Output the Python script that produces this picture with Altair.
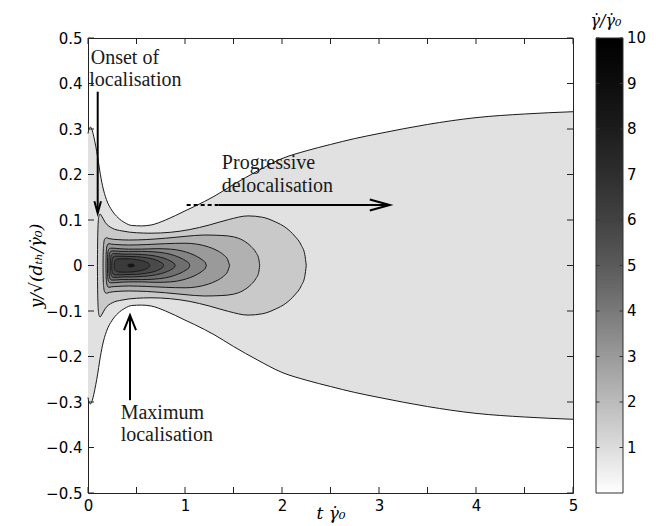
import altair as alt
import pandas as pd

# ---------------- data ----------------
# upper halves of the contours (the field is symmetric about y = 0)
L1_x = [0, 0.013, 0.028, 0.045, 0.06, 0.08, 0.1, 0.12, 0.15, 0.19, 0.25, 0.31, 0.38, 0.45, 0.55, 0.65,
        0.8, 1.0, 1.1, 1.3, 1.5, 1.75, 2.0, 2.25, 2.5, 2.75, 3.0, 3.5, 4.0, 4.5, 5.0]
L1_y = [0.29, 0.302, 0.304, 0.296, 0.283, 0.262, 0.238, 0.21, 0.175, 0.145, 0.12, 0.105, 0.094, 0.088,
        0.087, 0.089, 0.1, 0.12, 0.13, 0.152, 0.178, 0.208, 0.235, 0.252, 0.266, 0.279, 0.29, 0.31,
        0.325, 0.333, 0.338]

L2_x = [0.097, 0.099, 0.103, 0.112, 0.125, 0.145, 0.18, 0.25, 0.35, 0.5, 0.65, 0.85, 1.05, 1.25, 1.45,
        1.65, 1.8, 1.93, 2.04, 2.13, 2.2, 2.235, 2.25]
L2_y = [0, 0.045, 0.085, 0.108, 0.113, 0.107, 0.094, 0.082, 0.076, 0.072, 0.071, 0.073, 0.079, 0.089,
        0.101, 0.109, 0.106, 0.096, 0.083, 0.065, 0.044, 0.024, 0]

L3_x = [0.155, 0.157, 0.162, 0.172, 0.19, 0.22, 0.3, 0.42, 0.6, 0.8, 1.0, 1.2, 1.38, 1.5, 1.6, 1.68,
        1.73, 1.76, 1.77]
L3_y = [0, 0.03, 0.048, 0.058, 0.061, 0.059, 0.057, 0.056, 0.057, 0.06, 0.064, 0.067, 0.066, 0.063,
        0.055, 0.042, 0.029, 0.015, 0]

L4_x = [0.185, 0.187, 0.192, 0.2, 0.215, 0.24, 0.3, 0.42, 0.6, 0.8, 1.0, 1.12, 1.24, 1.33, 1.4, 1.44, 1.46]
L4_y = [0, 0.025, 0.038, 0.045, 0.048, 0.047, 0.046, 0.045, 0.046, 0.048, 0.049, 0.047, 0.041, 0.033,
        0.023, 0.013, 0]

L5_x = [0.2, 0.202, 0.207, 0.215, 0.23, 0.26, 0.32, 0.42, 0.55, 0.7, 0.85, 0.97, 1.06, 1.13, 1.18, 1.21, 1.22]
L5_y = [0, 0.02, 0.031, 0.036, 0.038, 0.038, 0.037, 0.036, 0.036, 0.037, 0.036, 0.032, 0.026, 0.019,
        0.012, 0.006, 0]

L6_x = [0.215, 0.217, 0.222, 0.23, 0.245, 0.28, 0.34, 0.42, 0.55, 0.68, 0.8, 0.89, 0.96, 1.01, 1.04, 1.05]
L6_y = [0, 0.017, 0.026, 0.03, 0.032, 0.032, 0.031, 0.031, 0.031, 0.03, 0.027, 0.022, 0.016, 0.01, 0.005, 0]

L7_x = [0.23, 0.232, 0.237, 0.245, 0.26, 0.3, 0.36, 0.45, 0.56, 0.66, 0.75, 0.82, 0.865, 0.89, 0.9]
L7_y = [0, 0.013, 0.02, 0.024, 0.026, 0.026, 0.025, 0.025, 0.024, 0.022, 0.018, 0.013, 0.008, 0.004, 0]

L8_x = [0.245, 0.247, 0.252, 0.26, 0.28, 0.32, 0.4, 0.5, 0.6, 0.68, 0.73, 0.76, 0.775, 0.78]
L8_y = [0, 0.01, 0.016, 0.019, 0.0205, 0.0205, 0.02, 0.0195, 0.017, 0.0135, 0.0095, 0.006, 0.003, 0]

L9_x = [0.27, 0.273, 0.28, 0.295, 0.32, 0.37, 0.43, 0.5, 0.56, 0.6, 0.625, 0.64]
L9_y = [0, 0.007, 0.0105, 0.013, 0.0143, 0.0147, 0.0145, 0.013, 0.0105, 0.0075, 0.0045, 0]

L10_x = [0.41, 0.42, 0.445, 0.47, 0.48]
L10_y = [0, 0.0028, 0.0033, 0.0025, 0]

contour_levels = [1, 2, 3, 4, 5, 6, 7, 8, 9, 10]
contour_x = [L1_x, L2_x, L3_x, L4_x, L5_x, L6_x, L7_x, L8_x, L9_x, L10_x]
contour_y = [L1_y, L2_y, L3_y, L4_y, L5_y, L6_y, L7_y, L8_y, L9_y, L10_y]
fill_colors = ["#e1e1e1", "#c9c9c9", "#b1b1b1", "#9a9a9a", "#848484",
               "#6f6f6f", "#5b5b5b", "#4a4a4a", "#3b3b3b", "#151515"]

x_tick_labels = [0, 1, 2, 3, 4, 5]
x_ticks = [0, 0.5, 1, 1.5, 2, 2.5, 3, 3.5, 4, 4.5, 5]
y_ticks = [-0.5, -0.4, -0.3, -0.2, -0.1, 0, 0.1, 0.2, 0.3, 0.4, 0.5]

cbar_min, cbar_max = 0, 10
cbar_ticks = [1, 2, 3, 4, 5, 6, 7, 8, 9, 10]
cbar_stop_values = [0, 1, 2, 3, 4, 5, 6, 7, 8, 9, 10]
cbar_stop_colors = ["#ffffff", "#dcdcdc", "#bbbbbb", "#9a9a9a", "#797979", "#5a5a5a",
                    "#424242", "#2e2e2e", "#1c1c1c", "#0d0d0d", "#000000"]

ann_text = ["Onset of", "localisation", "Progressive", "delocalisation", "Maximum", "localisation"]
ann_x = [0.028, 0.013, 1.38, 1.38, 0.337, 0.337]
ann_y = [0.443, 0.395, 0.212, 0.1615, -0.337, -0.386]

# arrows: shafts and open heads (polylines)
arrow_id = ["onset", "onset", "max", "max", "prog", "prog",
            "onset_h", "onset_h", "onset_h", "max_h", "max_h", "max_h", "prog_h", "prog_h", "prog_h"]
arrow_x = [0.1, 0.1, 0.433, 0.433, 1.344, 3.1,
           0.066, 0.1, 0.134, 0.371, 0.433, 0.495, 2.905, 3.111, 2.905]
arrow_y = [0.382, 0.118, -0.296, -0.112, 0.133, 0.133,
           0.141, 0.115, 0.141, -0.142, -0.109, -0.142, 0.145, 0.133, 0.121]
dash_x = [1.017, 1.344]
dash_y = [0.133, 0.133]

# ---------------- tables ----------------
rows = []
for lev, xs_, ys_ in zip(contour_levels, contour_x, contour_y):
    for i, (xv, yv) in enumerate(zip(xs_, ys_)):
        rows.append({"level": lev, "i": i, "x": xv, "y": yv, "ylo": -yv})
cdf = pd.DataFrame(rows)
line_df = pd.concat([
    cdf.assign(side="up", yy=cdf["y"]),
    cdf.assign(side="down", yy=cdf["ylo"]),
])

ann_df = pd.DataFrame({"text": ann_text, "x": ann_x, "y": ann_y})
arrow_df = pd.DataFrame({"id": arrow_id, "x": arrow_x, "y": arrow_y})
arrow_df["i"] = range(len(arrow_df))
dash_df = pd.DataFrame({"x": dash_x, "y": dash_y})
xt_df = pd.DataFrame({"x": x_ticks})
yt_df = pd.DataFrame({"y": y_ticks})
cb_df = pd.DataFrame({"v": cbar_ticks})
cb_df["y"] = (cb_df["v"] - (cbar_min + cbar_max) / 2) / (cbar_max - cbar_min)
cb_rect = pd.DataFrame({"y": [0.5], "ylo": [-0.5]})
cb_title = pd.DataFrame({"t": ["γ̇/γ̇₀"]})

W, H = 485, 455
XS = alt.Scale(domain=[0, 5], nice=False, zero=False)
YS = alt.Scale(domain=[-0.5, 0.5], nice=False, zero=False)

x_axis = alt.Axis(values=x_tick_labels, format="d", title="t γ̇₀", grid=False, domain=False,
                  ticks=False, tickSize=0, labelPadding=5, labelFont="DejaVu Sans",
                  labelFontSize=15, labelColor="black", labelFlush=False, labelOverlap=False,
                  titleFont="DejaVu Serif", titleFontStyle="italic", titleFontWeight="normal",
                  titleFontSize=17, titleColor="black", titleY=25, titleBaseline="alphabetic")
y_axis = alt.Axis(values=y_ticks, format=".1~f", title="y/√(dₜₕ/γ̇₀)", grid=False, domain=False,
                  ticks=False, tickSize=0, labelPadding=6, labelFont="DejaVu Sans",
                  labelFontSize=15, labelColor="black", labelFlush=False, labelOverlap=False,
                  titleFont="DejaVu Serif", titleFontStyle="italic", titleFontWeight="normal",
                  titleFontSize=17, titleColor="black", titleAngle=270, titleX=-47, titleY=H / 2,
                  titleAlign="center", titleBaseline="alphabetic")


def X(field):
    return alt.X(field, type="quantitative", scale=XS, axis=x_axis)


def Y(field):
    return alt.Y(field, type="quantitative", scale=YS, axis=y_axis, stack=None)


layers = []
for k, lev in enumerate(contour_levels):
    layers.append(
        alt.Chart(cdf).transform_filter(alt.datum.level == lev)
        .mark_area(color=fill_colors[k], interpolate="monotone")
        .encode(x=X("x"), y=Y("y"), y2="ylo:Q")
    )

layers.append(
    alt.Chart(line_df).mark_line(color="#1a1a1a", strokeWidth=1, interpolate="monotone")
    .encode(x=X("x"), y=Y("yy"), detail=["level:N", "side:N"], order="i:Q")
)

layers.append(
    alt.Chart(arrow_df).mark_line(color="black", strokeWidth=2)
    .encode(x=X("x"), y=Y("y"), detail="id:N", order="i:Q")
)
layers.append(
    alt.Chart(dash_df).mark_line(color="black", strokeWidth=2, strokeDash=[4, 3])
    .encode(x=X("x"), y=Y("y"))
)
layers.append(
    alt.Chart(ann_df).mark_text(align="left", baseline="alphabetic", font="Liberation Serif",
                                fontSize=20, color="#1a1a1a")
    .encode(x=X("x"), y=Y("y"), text="text:N")
)

# inward ticks on all four sides
for (y0, y1) in [(H, H - 6), (0, 6)]:
    layers.append(alt.Chart(xt_df).mark_rule(color="#222", strokeWidth=1)
                  .encode(x=X("x"), y=alt.value(y0), y2=alt.value(y1)))
for (x0, x1) in [(0, 6), (W, W - 6)]:
    layers.append(alt.Chart(yt_df).mark_rule(color="#222", strokeWidth=1)
                  .encode(y=Y("y"), x=alt.value(x0), x2=alt.value(x1)))

# colour bar
CB_L, CB_R = 508, 535
grad = alt.Gradient(gradient="linear", x1=0, x2=0, y1=1, y2=0,
                    stops=[alt.GradientStop(offset=v / cbar_max, color=c)
                           for v, c in zip(cbar_stop_values, cbar_stop_colors)])
layers.append(
    alt.Chart(cb_rect).mark_rect(fill=grad, stroke="#333", strokeWidth=1)
    .encode(y=Y("y"), y2="ylo:Q", x=alt.value(CB_L), x2=alt.value(CB_R))
)
for (x0, x1) in [(CB_L, CB_L + 3.5), (CB_R, CB_R - 3.5)]:
    layers.append(alt.Chart(cb_df).mark_rule(color="#333", strokeWidth=1)
                  .encode(y=Y("y"), x=alt.value(x0), x2=alt.value(x1)))
layers.append(
    alt.Chart(cb_df).mark_text(align="left", baseline="middle", font="DejaVu Sans", fontSize=15,
                               color="black")
    .encode(y=Y("y"), x=alt.value(CB_R + 4), text="v:Q")
)
layers.append(
    alt.Chart(cb_title).mark_text(align="center", baseline="alphabetic", font="DejaVu Serif",
                                  fontStyle="italic", fontSize=16, color="black")
    .encode(text="t:N", x=alt.value(518), y=alt.value(-12))
)

chart = (
    alt.layer(*layers)
    .properties(width=W, height=H, autosize=alt.AutoSizeParams(type="none"),
                padding={"left": 80, "top": 30, "right": 78, "bottom": 30})
    .configure_view(stroke="#222", strokeWidth=1)
)

chart.save("out.html", embed_options={"renderer": "svg", "actions": False})
